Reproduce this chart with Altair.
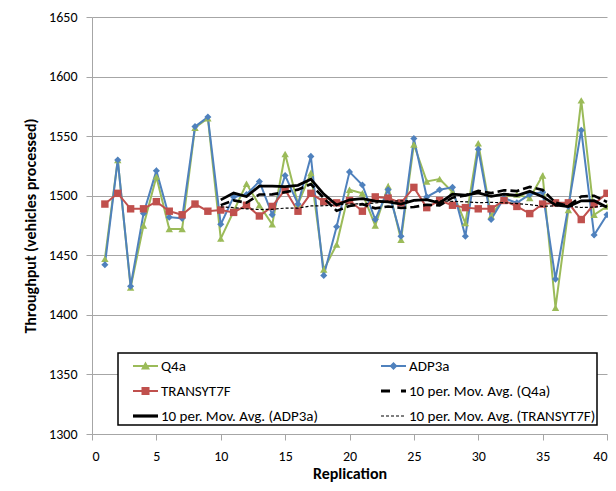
import altair as alt
import pandas as pd

# ---------------- data ----------------
reps = list(range(1, 41))
q4a = [1447, 1530, 1423, 1475, 1516, 1472, 1472, 1557, 1565, 1464,
       1487, 1510, 1492, 1476, 1535, 1493, 1519, 1438, 1459, 1505,
       1502, 1475, 1508, 1463, 1543, 1512, 1514, 1503, 1477, 1544,
       1483, 1499, 1501, 1498, 1517, 1406, 1488, 1580, 1484, 1491]
adp3a = [1442, 1530, 1424, 1485, 1521, 1482, 1481, 1558, 1566, 1476,
         1499, 1501, 1512, 1484, 1517, 1493, 1533, 1433, 1474, 1520,
         1509, 1480, 1505, 1466, 1548, 1499, 1505, 1507, 1466, 1539,
         1480, 1498, 1494, 1501, 1503, 1430, 1491, 1555, 1467, 1484]
transyt7f = [1493, 1502, 1489, 1489, 1495, 1487, 1484, 1493, 1487, 1488,
             1486, 1492, 1483, 1491, 1505, 1487, 1502, 1495, 1494, 1496,
             1487, 1499, 1498, 1494, 1507, 1490, 1496, 1492, 1490, 1489,
             1489, 1496, 1491, 1485, 1493, 1494, 1494, 1480, 1493, 1502]

series_names = ["Q4a", "ADP3a", "TRANSYT7F"]
ma_names = ["10 per. Mov. Avg. (Q4a)", "10 per. Mov. Avg. (ADP3a)",
            "10 per. Mov. Avg. (TRANSYT7F)"]
legend_order = [series_names[0], series_names[1], series_names[2],
                ma_names[0], ma_names[1], ma_names[2]]
ma_window = 10
x_ticks = list(range(0, 41, 5))
y_ticks = list(range(1300, 1651, 50))

df = pd.DataFrame({
    "rep": reps * 3,
    "series": ["Q4a"] * 40 + ["ADP3a"] * 40 + ["TRANSYT7F"] * 40,
    "value": q4a + adp3a + transyt7f,
})

# ---------------- styles ----------------
GREEN, BLUE, RED = "#9BBB59", "#4F81BD", "#C0504D"
FONT = "Carlito, Lato, sans-serif"
GRAY = "#A6A6A6"

x_enc = alt.X("rep:Q", scale=alt.Scale(domain=[0, 40], nice=False),
              axis=alt.Axis(values=x_ticks, title="Replication", grid=False))
y_enc = alt.Y("value:Q", scale=alt.Scale(domain=[1300, 1650], nice=False, zero=False),
              axis=alt.Axis(values=y_ticks, format="d",
                            title="Throughput (vehicles processed)", grid=True))

layers = []
raw_styles = [("Q4a", GREEN, "triangle-up", 55),
              ("ADP3a", BLUE, "diamond", 50),
              ("TRANSYT7F", RED, "square", 55)]
for name, col, shp, sz in raw_styles:
    base = alt.Chart(df).transform_filter(alt.datum.series == name)
    layers.append(base.mark_line(color=col, strokeWidth=2).encode(x=x_enc, y=y_enc))
for name, col, shp, sz in raw_styles:
    base = alt.Chart(df).transform_filter(alt.datum.series == name)
    layers.append(base.mark_point(filled=True, color=col, shape=shp, size=sz,
                                  opacity=1).encode(x=x_enc, y=y_enc))

ma_styles = [("Q4a", 2.6, [9, 4]),
             ("ADP3a", 2.8, None),
             ("TRANSYT7F", 1.2, [3, 2])]
for name, w, dash in ma_styles:
    ch = (alt.Chart(df)
          .transform_filter(alt.datum.series == name)
          .transform_window(ma="mean(value)", frame=[-(ma_window - 1), 0],
                            sort=[alt.SortField("rep")])
          .transform_filter(alt.datum.rep >= ma_window)
          .transform_calculate(value="datum.ma"))
    kw = dict(color="black", strokeWidth=w)
    if dash:
        kw["strokeDash"] = dash
    layers.append(ch.mark_line(**kw).encode(x=x_enc, y=y_enc))

# ---------------- legend symbols (custom paths, unit = 12px) ----------------
U = 12.0
def rect(x0, x1, half):
    return f"M{x0/U:.3f},{-half/U:.3f}H{x1/U:.3f}V{half/U:.3f}H{x0/U:.3f}Z"

S0, S1 = 2.0, 27.0  # symbol span in px relative to symbol centre
MID = (S0 + S1) / 2
line_thin = rect(S0, S1, 1.0)
tri = f"M{MID/U:.3f},{-4.5/U:.3f}L{(MID+4.5)/U:.3f},{3.5/U:.3f}L{(MID-4.5)/U:.3f},{3.5/U:.3f}Z"
dia = f"M{MID/U:.3f},{-4/U:.3f}L{(MID+4)/U:.3f},0L{MID/U:.3f},{4/U:.3f}L{(MID-4)/U:.3f},0Z"
sq = rect(MID - 4, MID + 4, 4.0)
p_q4a = line_thin + tri
p_adp = line_thin + dia
p_tr = line_thin + sq
p_ma_q = rect(S0, S0 + 9, 1.6) + rect(S0 + 20, S1, 1.6)
p_ma_a = rect(S0, S1, 1.6)
p_ma_t = "".join(rect(S0 + k * 5, S0 + k * 5 + 3, 0.6) for k in range(5))
legend_paths = [p_q4a, p_adp, p_tr, p_ma_q, p_ma_a, p_ma_t]
legend_colors = [GREEN, BLUE, RED, "black", "black", "black"]

leg = alt.Legend(title=None, orient="none", legendX=26, legendY=336, columns=2,
                 direction="horizontal",
                 strokeColor="black", fillColor="white", padding=1,
                 symbolSize=576, symbolStrokeWidth=0, labelFontSize=15,
                 labelFont=FONT, labelColor="black", labelOffset=18,
                 labelLimit=400, rowPadding=5, columnPadding=49)

legend_layer = (alt.Chart(df).transform_filter("false")
                .mark_point(filled=True, opacity=1)
                .encode(x=x_enc, y=y_enc,
                        color=alt.Color("series:N", scale=alt.Scale(domain=legend_order, range=legend_colors), legend=leg),
                        shape=alt.Shape("series:N", scale=alt.Scale(domain=legend_order, range=legend_paths), legend=leg)))
layers.append(legend_layer)

chart = (alt.layer(*layers)
         .properties(width=515, height=417,
                     autosize=alt.AutoSizeParams(type="none"),
                     padding={"left": 84, "top": 9, "right": 1, "bottom": 48})
         .configure_view(stroke=None)
         .configure_legend(strokeWidth=1.5)
         .configure_axis(domainColor=GRAY, tickColor=GRAY, gridColor=GRAY,
                         tickSize=6, labelPadding=9, labelFont=FONT,
                         labelFontSize=14, labelColor="black",
                         titleFont=FONT, titleFontSize=16, titleFontWeight="bold",
                         titleColor="black")
         .configure_axisX(titlePadding=2)
         .configure_axisY(titlePadding=10))

chart.save("out.html", embed_options={"renderer": "svg", "actions": False})
